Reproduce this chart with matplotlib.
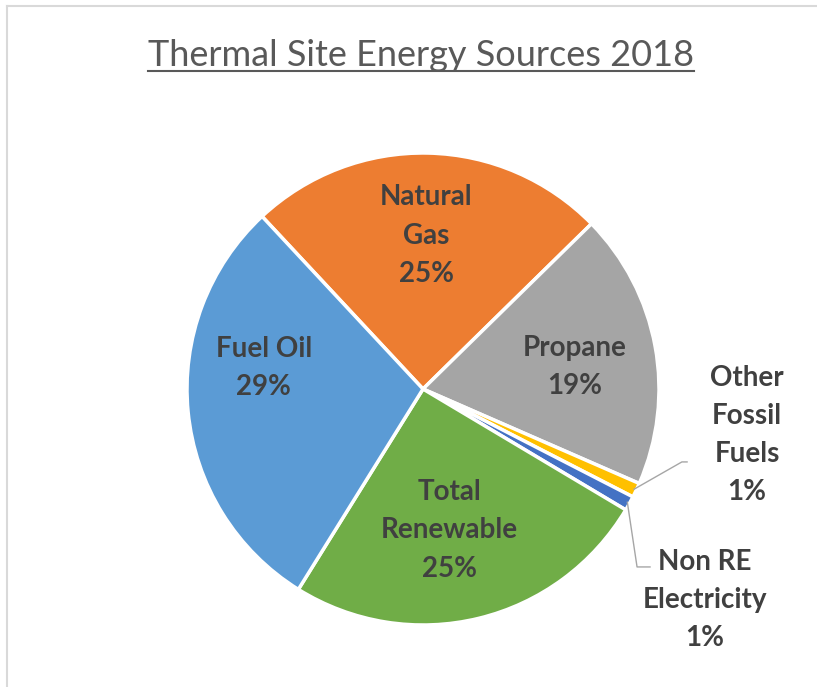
import numpy as np
import matplotlib

matplotlib.use("Agg")
import matplotlib.pyplot as plt
from matplotlib.lines import Line2D

# slice data, clockwise from the top-left boundary (as drawn)
SOURCES = ["Natural\nGas", "Propane", "Other\nFossil\nFuels", "Non RE\nElectricity",
           "Total\nRenewable", "Fuel Oil"]
SHARES = [24.6, 18.9, 1.0, 1.0, 25.3, 29.2]
COLORS = ["#ED7D31", "#A5A5A5", "#FFC000", "#4472C4", "#70AD47", "#5B9BD5"]
TITLE = "Thermal Site Energy Sources 2018"

W, H = 817, 687
plt.rcParams["font.family"] = ["Lato", "DejaVu Sans"]

fig = plt.figure(figsize=(W / 100, H / 100), dpi=100)

# light chart-area border (top and left visible)
fig.add_artist(Line2D([7 / W, 1], [1 - 6 / H, 1 - 6 / H], color="#D9D9D9", lw=1.5))
fig.add_artist(Line2D([7 / W, 7 / W], [0, 1 - 6 / H], color="#D9D9D9", lw=1.5))

cx, cy, r = 423, 389, 236
ax = fig.add_axes([(cx - r) / W, (H - cy - r) / H, 2 * r / W, 2 * r / H])
wedges, _ = ax.pie(SHARES, colors=COLORS, startangle=133, counterclock=False,
                   wedgeprops=dict(edgecolor="white", linewidth=2.5))
ax.set_xlim(-1, 1)
ax.set_ylim(-1, 1)
ax.set_aspect("equal")
ax.axis("off")

total = sum(SHARES)
txt = dict(fontsize=20, fontweight="bold", color="#404040", ha="center",
           va="center", linespacing=1.58)
# inside label placement: (radius, angle nudge in degrees)
inside = {0: (0.65, 0), 1: (0.65, -2.2), 4: (0.61, -3), 5: (0.68, -13)}
# outside labels for the two small slices: (label x, y, elbow x, y, end x)
outside = {2: (1.373, -0.195, 1.097, -0.309, 1.119),
           3: (1.195, -0.895, 0.907, -0.754, 0.962)}
for i, (w, name, val) in enumerate(zip(wedges, SOURCES, SHARES)):
    mid = np.deg2rad((w.theta1 + w.theta2) / 2)
    label = f"{name}\n{val / total * 100:.0f}%"
    if i in outside:
        lx, ly, ex, ey, endx = outside[i]
        sx, sy = 0.99 * np.cos(mid), 0.99 * np.sin(mid)
        ax.plot([sx, ex, endx], [sy, ey, ey], color="#A6A6A6", lw=1, clip_on=False)
        ax.text(lx, ly, label, **txt)
    else:
        rr, nudge = inside[i]
        a = mid + np.deg2rad(nudge)
        ax.text(rr * np.cos(a), rr * np.sin(a), label, **txt)

# underlined title
t = fig.text(421 / W, 1 - 55 / H, TITLE, fontsize=26, color="#595959",
             ha="center", va="center")
fig.canvas.draw()
bb = t.get_window_extent()
uy = 1 - 71 / H
fig.add_artist(Line2D([bb.x0 / W, bb.x1 / W], [uy, uy], color="#595959", lw=1.5))

fig.savefig("out.png", dpi=100)
